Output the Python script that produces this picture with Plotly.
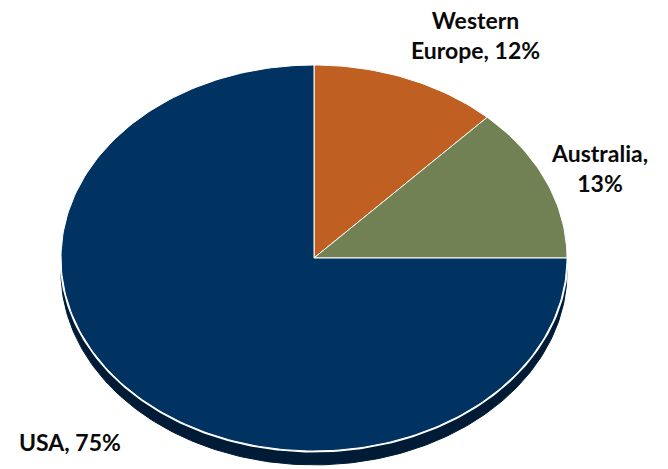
import numpy as np
import plotly.graph_objects as go

# ---- data ----
categories = ["Western Europe", "Australia", "USA"]
values = [12, 13, 75]
colors = ["#BF5F22", "#728154", "#003361"]
label_lines = [["Western", "Europe, 12%"], ["Australia,", "13%"], ["USA, 75%"]]

side_color = "#001B35"
depth = 0.072  # thickness of the pie side in unit-circle y units

fig = go.Figure()

# side (depth) of the pie: full ellipse shifted downward
t = np.linspace(0, 2 * np.pi, 400)
fig.add_trace(go.Scatter(x=np.cos(t), y=np.sin(t) - depth, mode="lines",
                         fill="toself", fillcolor=side_color,
                         line=dict(color=side_color, width=1),
                         hoverinfo="skip", showlegend=False))
# white rim line between top face and side
fig.add_trace(go.Scatter(x=np.cos(t), y=np.sin(t), mode="lines",
                         line=dict(color="white", width=3),
                         hoverinfo="skip", showlegend=False))

# slices, clockwise starting at 12 o'clock
total = sum(values)
start = np.pi / 2
for cat, v, c in zip(categories, values, colors):
    sweep = 2 * np.pi * v / total
    a = np.linspace(start, start - sweep, max(int(300 * v / total), 20))
    xs = np.concatenate([[0], np.cos(a), [0]])
    ys = np.concatenate([[0], np.sin(a), [0]])
    fig.add_trace(go.Scatter(x=xs, y=ys, mode="lines", fill="toself",
                             fillcolor=c, line=dict(color="white", width=1),
                             name=cat, hoverinfo="skip", showlegend=False))
    start -= sweep

# labels
label_pos = [(476, 35, "center"), (599, 168, "center"), (17, 442, "left")]
W, H = 668, 469
for lines, (px, py, al) in zip(label_lines, label_pos):
    fig.add_annotation(text="<br>".join(f"<b>{s}</b>" for s in lines),
                       x=px / W, y=1 - py / H,
                       xref="paper", yref="paper", showarrow=False,
                       xanchor="center" if al == "center" else "left",
                       yanchor="middle", align=al,
                       font=dict(family="Lato", size=23, color="#0a0a0a"))

cx, cy, rx, ry = 314, 258, 253, 193
fig.update_layout(
    width=W, height=H, margin=dict(l=0, r=0, t=0, b=0),
    paper_bgcolor="white", plot_bgcolor="white",
    xaxis=dict(range=[-cx / rx, (W - cx) / rx], visible=False, fixedrange=True),
    yaxis=dict(range=[-(H - cy) / ry, cy / ry], visible=False, fixedrange=True),
    showlegend=False,
)

fig.write_html("out.html", config={"displayModeBar": False})
with open("out.html", encoding="utf-8") as f:
    html = f.read()
html = html.replace("<head>", "<head><style>html,body{margin:0;padding:0;overflow:hidden}</style>", 1)
with open("out.html", "w", encoding="utf-8") as f:
    f.write(html)
